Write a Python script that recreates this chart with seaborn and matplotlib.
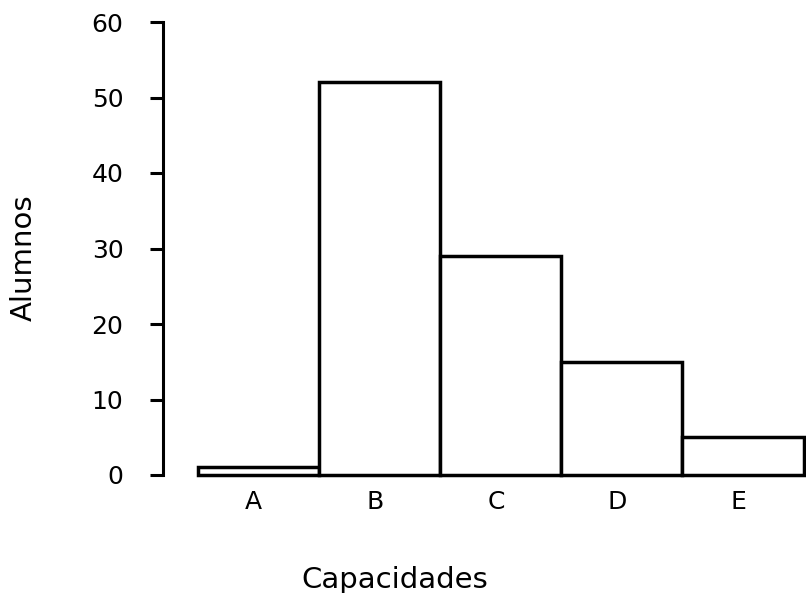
import matplotlib
matplotlib.use("Agg")
import matplotlib.pyplot as plt
import matplotlib.transforms as mtransforms
import seaborn as sns
import pandas as pd

categories = ["A", "B", "C", "D", "E"]
alumnos = [1, 52, 29, 15, 5]
y_ticks = [0, 10, 20, 30, 40, 50, 60]

sns.set_style("white")
plt.rcParams['font.family'] = ['DejaVu Sans']
plt.rcParams['text.color'] = 'black'
plt.rcParams['xtick.color'] = 'black'
plt.rcParams['ytick.color'] = 'black'

df = pd.DataFrame({"Capacidades": categories, "Alumnos": alumnos})

fig = plt.figure(figsize=(8.06, 5.93), dpi=100)
ax = fig.add_axes([163/806, 1-475/593, 1-163/806, (475-22)/593])

sns.barplot(data=df, x="Capacidades", y="Alumnos", color="white", saturation=1,
            edgecolor="black", linewidth=2.5, width=1.0, ax=ax)
for p in ax.patches:
    p.set_clip_on(False)

ax.set_xlim(-0.79, 4.52)
ax.set_ylim(0, 60)
ax.set_yticks(y_ticks)
ax.set_yticklabels([str(t) for t in y_ticks])
for s in ["top", "right", "bottom"]:
    ax.spines[s].set_visible(False)
ax.spines["left"].set_bounds(0, 60)
ax.spines["left"].set_linewidth(2.2)
ax.spines["left"].set_color("black")
ax.tick_params(axis="y", direction="out", length=9.5, width=2.2, color="black",
               labelsize=18, pad=19, left=True, labelcolor="black")
ax.tick_params(axis="x", length=0, labelsize=18, pad=11, labelcolor="black")
offset = mtransforms.ScaledTranslation(-5/100, 0, fig.dpi_scale_trans)
for lbl in ax.get_xticklabels():
    lbl.set_transform(lbl.get_transform() + offset)
ax.set_xlabel("")
ax.set_ylabel("")
fig.text(395/806, 1-580/593, "Capacidades", ha="center", va="center", fontsize=21)
fig.text(24/806, 1-258/593, "Alumnos", ha="center", va="center", fontsize=21, rotation=90)

fig.savefig("out.png", dpi=100, facecolor="white")
